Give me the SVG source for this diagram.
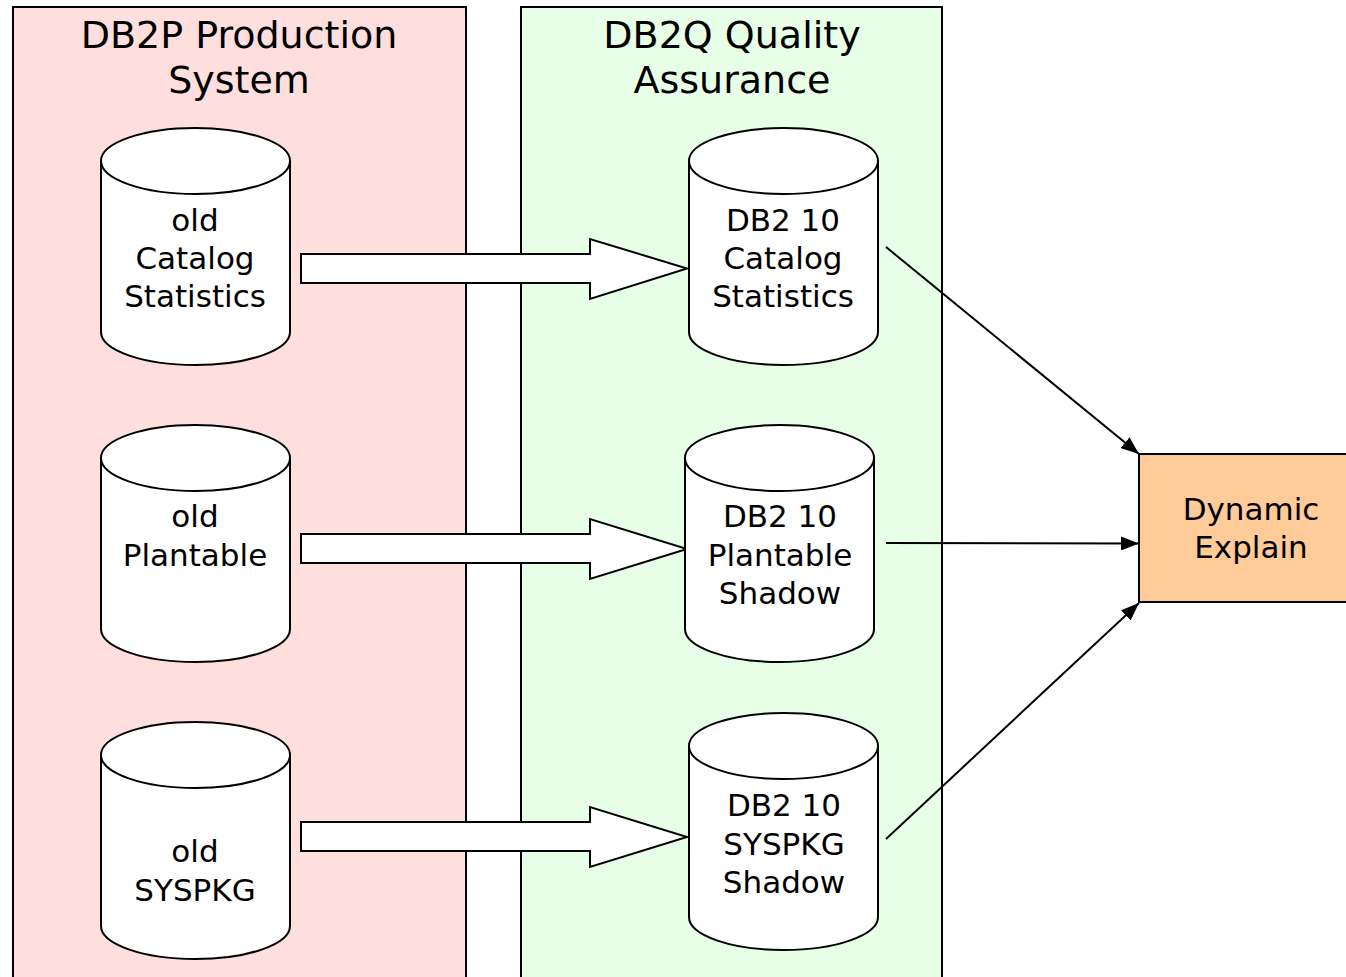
<svg xmlns="http://www.w3.org/2000/svg" width="1346" height="977" viewBox="0 0 1346 977">
<style>
.t{font-family:"DejaVu Sans","Liberation Sans",sans-serif;fill:#000;text-anchor:middle}
.title{font-size:38px}
.lbl{font-size:31px}
.cyl{fill:#fff;stroke:#000;stroke-width:2}
.blk{fill:#fff;stroke:#000;stroke-width:2;stroke-linejoin:miter}
.ln{stroke:#000;stroke-width:2;fill:none}
</style>
<defs>
<marker id="ah" viewBox="0 0 18 14" refX="18" refY="7" markerWidth="18" markerHeight="14" markerUnits="userSpaceOnUse" orient="auto">
<path d="M0,0 L18,7 L0,14 Z" fill="#000"/>
</marker>
</defs>
<g id="panel-prod">
<rect x="13" y="7" width="453" height="980" fill="#FFDEDE" stroke="#000" stroke-width="2"/>
<text class="t title" x="239" y="48">DB2P Production</text>
<text class="t title" x="239" y="93">System</text>
</g>
<g id="panel-qa">
<rect x="521" y="7" width="421" height="980" fill="#E6FFE6" stroke="#000" stroke-width="2"/>
<text class="t title" x="732" y="48">DB2Q Quality</text>
<text class="t title" x="732" y="93">Assurance</text>
</g>
<g id="conn">
<path class="blk" d="M301,254 L590,254 L590,239 L687,268.5 L590,299 L590,283 L301,283 Z"/>
<path class="blk" d="M301,534 L590,534 L590,519 L687,549 L590,579 L590,563 L301,563 Z"/>
<path class="blk" d="M301,822 L590,822 L590,807 L687,837 L590,867 L590,851 L301,851 Z"/>
<line class="ln" x1="886" y1="247" x2="1139" y2="454" marker-end="url(#ah)"/>
<line class="ln" x1="886" y1="543" x2="1139" y2="543.5" marker-end="url(#ah)"/>
<line class="ln" x1="886" y1="839" x2="1139" y2="603" marker-end="url(#ah)"/>
</g>
<g id="old-catalog">
<path class="cyl" d="M101,161 A94.5,33 0 0 1 290,161 L290,332 A94.5,33 0 0 1 101,332 Z"/>
<path class="cyl" d="M101,161 A94.5,33 0 0 0 290,161" fill="none"/>
<text class="t lbl" x="195" y="231">old</text>
<text class="t lbl" x="195" y="269">Catalog</text>
<text class="t lbl" x="195" y="307">Statistics</text>
</g>
<g id="old-plantable">
<path class="cyl" d="M101,458 A94.5,33 0 0 1 290,458 L290,629 A94.5,33 0 0 1 101,629 Z"/>
<path class="cyl" d="M101,458 A94.5,33 0 0 0 290,458" fill="none"/>
<text class="t lbl" x="195" y="527">old</text>
<text class="t lbl" x="195" y="566">Plantable</text>
</g>
<g id="old-syspkg">
<path class="cyl" d="M101,755 A94.5,33 0 0 1 290,755 L290,926 A94.5,33 0 0 1 101,926 Z"/>
<path class="cyl" d="M101,755 A94.5,33 0 0 0 290,755" fill="none"/>
<text class="t lbl" x="195" y="862">old</text>
<text class="t lbl" x="195" y="901">SYSPKG</text>
</g>
<g id="new-catalog">
<path class="cyl" d="M689,161 A94.5,33 0 0 1 878,161 L878,332 A94.5,33 0 0 1 689,332 Z"/>
<path class="cyl" d="M689,161 A94.5,33 0 0 0 878,161" fill="none"/>
<text class="t lbl" x="783" y="231">DB2 10</text>
<text class="t lbl" x="783" y="269">Catalog</text>
<text class="t lbl" x="783" y="307">Statistics</text>
</g>
<g id="new-plantable">
<path class="cyl" d="M685,458 A94.5,33 0 0 1 874,458 L874,629 A94.5,33 0 0 1 685,629 Z"/>
<path class="cyl" d="M685,458 A94.5,33 0 0 0 874,458" fill="none"/>
<text class="t lbl" x="780" y="527">DB2 10</text>
<text class="t lbl" x="780" y="566">Plantable</text>
<text class="t lbl" x="780" y="604">Shadow</text>
</g>
<g id="new-syspkg">
<path class="cyl" d="M689,746 A94.5,33 0 0 1 878,746 L878,917 A94.5,33 0 0 1 689,917 Z"/>
<path class="cyl" d="M689,746 A94.5,33 0 0 0 878,746" fill="none"/>
<text class="t lbl" x="784" y="816">DB2 10</text>
<text class="t lbl" x="784" y="855">SYSPKG</text>
<text class="t lbl" x="784" y="893">Shadow</text>
</g>
<g id="dynamic-explain">
<rect x="1139" y="454" width="220" height="148" fill="#FFCC99" stroke="#000" stroke-width="2"/>
<text class="t lbl" x="1251" y="520">Dynamic</text>
<text class="t lbl" x="1251" y="558">Explain</text>
</g>
</svg>
